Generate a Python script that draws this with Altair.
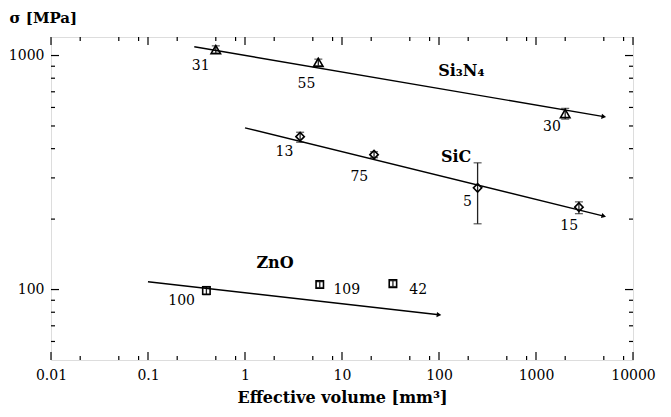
import math
import altair as alt
import pandas as pd

# ---------------- data ----------------
si3n4_x = [0.5, 5.7, 2000]
si3n4_y = [1060, 935, 565]
si3n4_lo = [1025, 905, 535]
si3n4_hi = [1100, 965, 595]

sic_x = [3.7, 21.4, 250, 2770]
sic_y = [450, 377, 272, 225]
sic_lo = [426, 366, 191, 211]
sic_hi = [470, 388, 348, 237]

zno_x = [0.4, 5.9, 33.5]
zno_y = [99, 105, 106]
zno_lo = [95, 102, 103]
zno_hi = [103, 108, 109]

# trend lines (start, end)
trend_names = ["Si3N4", "SiC", "ZnO"]
trend_x0 = [0.3, 1.0, 0.1]
trend_y0 = [1090, 491, 108]
trend_x1 = [5000, 5000, 100]
trend_y1 = [548, 206, 78]

# number annotations
num_text = ["31", "55", "30", "13", "75", "5", "15", "100", "109", "42"]
num_x = [0.35, 4.3, 1460, 2.55, 15.1, 197, 2200, 0.222, 11.2, 61]
num_y = [906, 757, 494, 386, 304, 236, 186, 89.7, 100, 100]

# material labels
mat_text = ["Si₃N₄", "SiC", "ZnO"]
mat_x = [170, 150, 2.04]
mat_y = [863, 370, 130]

x_major = [0.01, 0.1, 1, 10, 100, 1000, 10000]
x_minor = [m * 10.0 ** e for e in range(-2, 4) for m in (2, 5, 8)]
y_major = [100, 1000]
y_minor = [60, 70, 80, 90, 200, 300, 400, 500, 600, 700, 800, 900]

# ---------------- layout ----------------
W, H = 582, 323
XDOM = [0.01, 10000]
YDOM = [50, 1200]
FONT = "DejaVu Serif"

xs = alt.Scale(type="log", domain=XDOM, nice=False)
ys = alt.Scale(type="log", domain=YDOM, nice=False)

xaxis = alt.Axis(values=x_major, format="~g", ticks=False, domain=False, grid=False,
                 labelFont=FONT, labelFontSize=14, labelColor="black", labelPadding=8,
                 labelFlush=False, labelOverlap=False,
                 title="Effective volume [mm³]", titleFont=FONT, titleFontSize=16,
                 titleFontWeight="bold", titleColor="black", titlePadding=7)
yaxis = alt.Axis(values=y_major, format="d", ticks=False, domain=False, grid=False,
                 labelFont=FONT, labelFontSize=14, labelColor="black", labelPadding=7,
                 labelFlush=False, labelOverlap=False,
                 title="σ [MPa]", titleFont=FONT, titleFontSize=15, titleFontWeight="bold",
                 titleColor="black", titleAngle=0, titleAlign="left", titleBaseline="middle",
                 titleX=-42, titleY=-20)


def X(f):
    return alt.X(f, type="quantitative", scale=xs, axis=xaxis)


def Y(f):
    return alt.Y(f, type="quantitative", scale=ys, axis=yaxis)


def series(xv, yv, lo, hi, shape, size):
    df = pd.DataFrame({"x": xv, "y": yv, "lo": lo, "hi": hi})
    base = alt.Chart(df)
    bars = base.mark_rule(color="#222", strokeWidth=1.3).encode(x=X("x"), y=Y("lo"), y2="hi")
    cap_lo = base.mark_tick(orient="horizontal", size=8, thickness=1.3, color="#222").encode(x=X("x"), y=Y("lo"))
    cap_hi = base.mark_tick(orient="horizontal", size=8, thickness=1.3, color="#222").encode(x=X("x"), y=Y("hi"))
    pts = base.mark_point(shape=shape, size=size, filled=False, color="black",
                          strokeWidth=1.6, opacity=1).encode(x=X("x"), y=Y("y"))
    return [bars, cap_lo, cap_hi, pts]


layers = []
layers += series(si3n4_x, si3n4_y, si3n4_lo, si3n4_hi, "triangle-up", 90)
layers += series(sic_x, sic_y, sic_lo, sic_hi, "diamond", 70)
layers += series(zno_x, zno_y, zno_lo, zno_hi, "square", 55)

# trend lines with arrow heads
px_per_dec_x = W / (math.log10(XDOM[1]) - math.log10(XDOM[0]))
px_per_dec_y = H / (math.log10(YDOM[1]) - math.log10(YDOM[0]))
angles = []
for i in range(len(trend_names)):
    dx = (math.log10(trend_x1[i]) - math.log10(trend_x0[i])) * px_per_dec_x
    dy = -(math.log10(trend_y1[i]) - math.log10(trend_y0[i])) * px_per_dec_y
    angles.append(math.degrees(math.atan2(dy, dx)))

line_rows = []
for i, n in enumerate(trend_names):
    line_rows.append({"s": n, "x": trend_x0[i], "y": trend_y0[i], "o": 0})
    line_rows.append({"s": n, "x": trend_x1[i], "y": trend_y1[i], "o": 1})
line_df = pd.DataFrame(line_rows)
layers.append(alt.Chart(line_df).mark_line(color="black", strokeWidth=1.4).encode(
    x=X("x"), y=Y("y"), detail="s:N", order="o:Q"))

head_df = pd.DataFrame({"x": trend_x1, "y": trend_y1, "a": angles})
layers.append(alt.Chart(head_df).mark_point(shape="triangle-right", size=28, filled=True,
                                            color="black", opacity=1).encode(
    x=X("x"), y=Y("y"), angle=alt.Angle("a:Q", scale=None)))

# annotations
num_df = pd.DataFrame({"x": num_x, "y": num_y, "t": num_text})
layers.append(alt.Chart(num_df).mark_text(font=FONT, fontSize=14, color="black",
                                          align="center", baseline="middle").encode(
    x=X("x"), y=Y("y"), text="t:N"))
mat_df = pd.DataFrame({"x": mat_x, "y": mat_y, "t": mat_text})
layers.append(alt.Chart(mat_df).mark_text(font=FONT, fontSize=16, fontWeight="bold", color="black",
                                          align="center", baseline="middle").encode(
    x=X("x"), y=Y("y"), text="t:N"))

# inward ticks
MAJ, MIN = 8, 4


def xticks(vals, length):
    df = pd.DataFrame({"v": vals})
    b = alt.Chart(df).mark_rule(color="black", strokeWidth=1.2)
    return [b.encode(x=X("v"), y=alt.value(H), y2=alt.value(H - length)),
            b.encode(x=X("v"), y=alt.value(0), y2=alt.value(length))]


def yticks(vals, length):
    df = pd.DataFrame({"v": vals})
    b = alt.Chart(df).mark_rule(color="black", strokeWidth=1.2)
    return [b.encode(y=Y("v"), x=alt.value(0), x2=alt.value(length)),
            b.encode(y=Y("v"), x=alt.value(W), x2=alt.value(W - length))]


layers += xticks(x_major, MAJ) + xticks(x_minor, MIN)
layers += yticks(y_major, MAJ) + yticks(y_minor, MIN)

chart = alt.layer(*layers).properties(
    width=W, height=H,
    autosize=alt.AutoSizeParams(type="none"),
    padding={"left": 43, "top": 29, "right": 30, "bottom": 55},
).configure_view(stroke="black", strokeWidth=1.6).configure(background="white")

chart.save("out.html", embed_options={"renderer": "svg", "actions": False})
